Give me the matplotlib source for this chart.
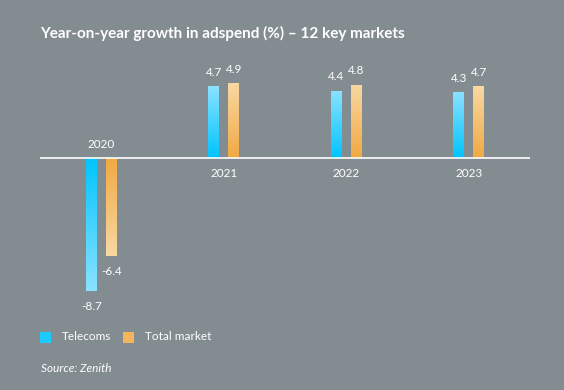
import matplotlib
matplotlib.use("Agg")
import matplotlib.pyplot as plt
import numpy as np
from matplotlib.colors import LinearSegmentedColormap
from matplotlib.patches import Rectangle

years = ["2020", "2021", "2022", "2023"]
telecoms = [-8.7, 4.7, 4.4, 4.3]
total_market = [-6.4, 4.9, 4.8, 4.7]
series_names = ["Telecoms", "Total market"]

BG = "#838c91"
W, H = 564, 390
fig = plt.figure(figsize=(W / 100, H / 100), dpi=100, facecolor=BG)
ax = fig.add_axes([40 / W, 1 - 310 / H, 490 / W, 240 / H])
ax.set_facecolor(BG)
ax.set_xlim(-0.5, 3.5)
ax.set_ylim(-9.93, 5.75)
for s in ax.spines.values():
    s.set_visible(False)
ax.set_xticks([])
ax.set_yticks([])

cmaps = {
    "Telecoms": LinearSegmentedColormap.from_list("t", ["#00c4ff", "#8ae2ff"]),
    "Total market": LinearSegmentedColormap.from_list("m", ["#f0a942", "#f9d8a4"]),
}
solid = {"Telecoms": "#1ccaff", "Total market": "#f3b45c"}

x = np.arange(len(years))
bw = 11 / 123
offs = [-10 / 123, 10 / 123]
grad = np.linspace(0, 1, 256).reshape(-1, 1)

for name, vals, off in zip(series_names, [telecoms, total_market], offs):
    bars = ax.bar(x + off, vals, width=bw, color="none", zorder=2)
    for b, v in zip(bars, vals):
        x0 = b.get_x()
        x1 = x0 + b.get_width()
        # saturated at the zero line, lighter towards the bar end
        img = ax.imshow(grad, cmap=cmaps[name], aspect="auto",
                        extent=(x0, x1, v, 0), origin="upper", zorder=2,
                        interpolation="bilinear")
        img.set_clip_path(b)
        off_pts = 10 if v >= 0 else -11
        ax.annotate(f"{v:.1f}", (b.get_x() + b.get_width() / 2, v),
                    xytext=(0, off_pts), textcoords="offset points",
                    ha="center", va="center", color="white", fontsize=8.5,
                    family="Lato")

ax.axhline(0, color="white", lw=1.2, zorder=3)

for i, yr in enumerate(years):
    neg = min(telecoms[i], total_market[i]) < 0
    ax.annotate(yr, (x[i], 0), xytext=(0, 9.5 if neg else -11.5),
                textcoords="offset points", ha="center", va="center",
                color="white", fontsize=8.5, family="Lato")

fig.text(40 / W, 1 - 33 / H, "Year-on-year growth in adspend (%) – 12 key markets",
         color="white", fontsize=11, fontweight="bold", family="Lato",
         ha="left", va="center")

# legend
ly = 1 - 337 / H
for name, lx in zip(series_names, [40, 123]):
    fig.patches.append(Rectangle((lx / W, ly - 5.5 / H), 11 / W, 11 / H,
                                 transform=fig.transFigure, facecolor=solid[name],
                                 edgecolor="none"))
    fig.text((lx + 22) / W, ly, name, color="white", fontsize=8.5, family="Lato",
             ha="left", va="center")

fig.text(41 / W, 1 - 369 / H, "Source: Zenith", color="white", fontsize=8.5,
         style="italic", family="Lato", ha="left", va="center")

fig.savefig("out.png", dpi=100, facecolor=BG)
